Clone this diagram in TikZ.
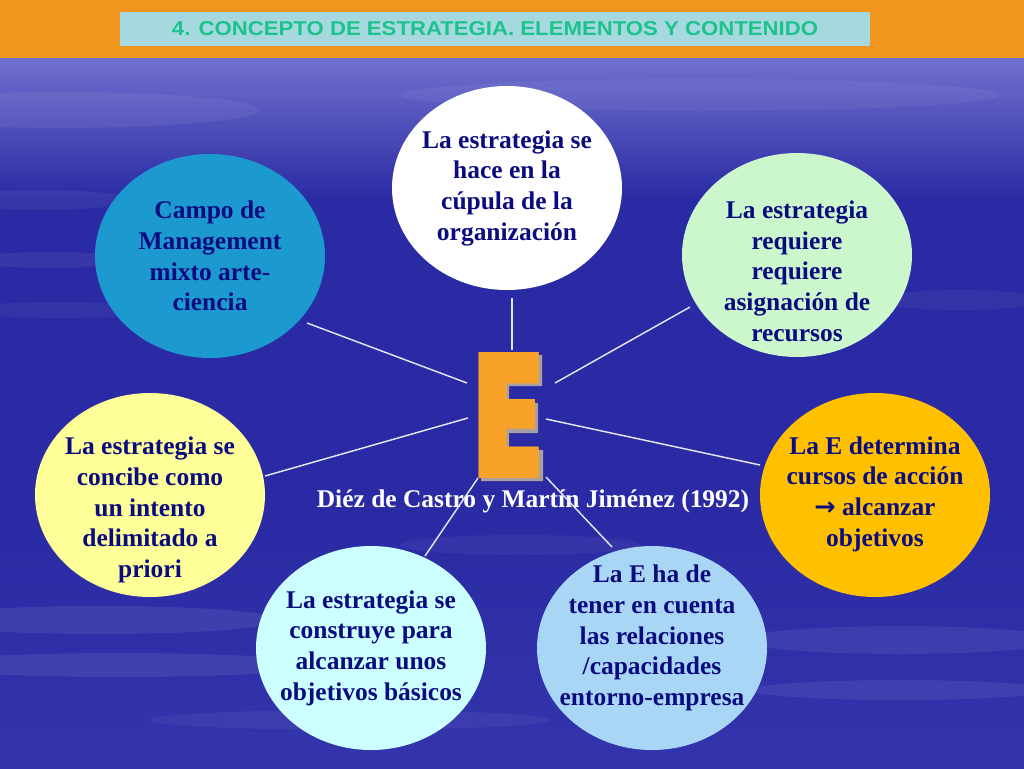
\documentclass[tikz,border=0pt]{standalone}
\usepackage{fontspec}
\setmainfont{Liberation Serif}
\newfontfamily\titlefont{Liberation Sans}
\newfontfamily\Efont{Poppins Black}
\newfontfamily\symfont{DejaVu Sans}
\usetikzlibrary{shapes.geometric}
\definecolor{bandorange}{HTML}{F0961E}
\definecolor{titlebox}{HTML}{A6D8E0}
\definecolor{titlegreen}{HTML}{1CC38A}
\definecolor{bgtop}{HTML}{7070CE}
\definecolor{bgmid}{HTML}{2A2AA4}
\definecolor{bgbot}{HTML}{3434AC}
\definecolor{navytext}{HTML}{0B0B80}
\definecolor{cteal}{HTML}{1C9AD0}
\definecolor{cgreen}{HTML}{CCF7CC}
\definecolor{cyellow}{HTML}{FFFF99}
\definecolor{cgold}{HTML}{FFC000}
\definecolor{ccyan}{HTML}{CCFFFF}
\definecolor{cblue}{HTML}{AAD6F5}
\definecolor{eorange}{HTML}{F9A229}
\definecolor{eshadow}{HTML}{A8A0A0}
\definecolor{spokecol}{HTML}{E4E4F4}
\begin{document}
\begin{tikzpicture}[x=0.75pt,y=-0.75pt,
  bub/.style={ellipse, draw=none, inner sep=0pt, minimum width=172.5pt, minimum height=153pt},
  txt/.style={font=\bfseries\fontsize{19.1pt}{23pt}\selectfont, text=navytext, align=center, inner sep=0pt},
  spoke/.style={draw=spokecol, line width=1.1pt},
  streak/.style={fill=white, draw=none}]
\useasboundingbox (0,0) rectangle (1024,768);
% background
\shade[top color=bgtop, bottom color=bgmid] (0,58) rectangle (1024,200);
\fill[bgmid] (0,199) rectangle (1024,520);
\shade[top color=bgmid, bottom color=bgbot] (0,519) rectangle (1024,768);
% streaks
\fill[streak, opacity=0.06] (60,110) ellipse (200 and 18);
\fill[streak, opacity=0.05] (700,95) ellipse (300 and 16);
\fill[streak, opacity=0.06] (40,200) ellipse (90 and 10);
\fill[streak, opacity=0.06] (50,260) ellipse (80 and 8);
\fill[streak, opacity=0.05] (60,310) ellipse (100 and 8);
\fill[streak, opacity=0.08] (100,620) ellipse (180 and 14);
\fill[streak, opacity=0.08] (120,665) ellipse (200 and 12);
\fill[streak, opacity=0.05] (520,545) ellipse (120 and 10);
\fill[streak, opacity=0.07] (900,640) ellipse (160 and 14);
\fill[streak, opacity=0.07] (900,690) ellipse (150 and 10);
\fill[streak, opacity=0.05] (960,300) ellipse (80 and 10);
\fill[streak, opacity=0.05] (350,720) ellipse (200 and 10);
% header
\fill[bandorange] (0,0) rectangle (1024,58);
\node[fill=titlebox, minimum width=562.5pt, minimum height=25.5pt, inner sep=0pt] (titlebg) at (495,29) {};
\node[inner sep=0pt, text=titlegreen] (title) at (495,29) {\resizebox{484.5pt}{10.5pt}{\titlefont\bfseries 4. CONCEPTO DE ESTRATEGIA. ELEMENTOS Y CONTENIDO}};
% bubbles
\node[bub, fill=white] (n1) at (507,188) {};
\node[bub, fill=cteal] (n2) at (210,256) {};
\node[bub, fill=cgreen] (n3) at (797,255) {};
\node[bub, fill=cyellow] (n4) at (150,495) {};
\node[bub, fill=cgold] (n5) at (875,495) {};
\node[bub, fill=ccyan] (n6) at (371,648) {};
\node[bub, fill=cblue] (n7) at (652,648) {};
% texts
\node[txt] (t1) at (507,188) {La estrategia se\\hace en la\\cúpula de la\\organización};
\node[txt] (t2) at (210,256) {Campo de\\Management\\mixto arte-\\ciencia};
\node[txt] (t3) at (797,271) {La estrategia\\requiere\\requiere\\asignación de\\recursos};
\node[txt] (t4) at (150,510) {La estrategia se\\concibe como\\un intento\\delimitado a\\priori};
\node[txt] (t5) at (875,494) {La E determina\\cursos de acción\\{\symfont\bfseries →} alcanzar\\objetivos};
\node[txt] (t6) at (371,648) {La estrategia se\\construye para\\alcanzar unos\\objetivos básicos};
\node[txt] (t7) at (652,638) {La E ha de\\tener en cuenta\\las relaciones\\/capacidades\\entorno-empresa};
% citation
\node[txt, text=white] (cite) at (533,501) {Diéz de Castro y Martín Jiménez (1992)};
% the E: shadow shape, then the letter
\fill[eshadow] (481,355) -- (542,355) -- (542,386) -- (509,386) -- (509,403) -- (538,403) -- (538,433) -- (509,433) -- (509,450) -- (543,450) -- (543,481) -- (481,481) -- cycle;
\node[inner sep=0pt, text=eorange] (E) at (508,415) {\resizebox{53.4pt}{94.5pt}{\fontsize{130pt}{130pt}\Efont E}};
% spokes
\coordinate (s1a) at (512,350); \coordinate (s1b) at (512,298);
\coordinate (s2a) at (467,383); \coordinate (s2b) at (307,323);
\coordinate (s3a) at (555,383); \coordinate (s3b) at (690,307);
\coordinate (s4a) at (468,418); \coordinate (s4b) at (265,476);
\coordinate (s5a) at (546,419); \coordinate (s5b) at (760,465);
\coordinate (s6a) at (478,478); \coordinate (s6b) at (425,556);
\coordinate (s7a) at (546,477); \coordinate (s7b) at (612,547);
\draw[spoke] (s1a) -- (s1b);
\draw[spoke] (s2a) -- (s2b);
\draw[spoke] (s3a) -- (s3b);
\draw[spoke] (s4a) -- (s4b);
\draw[spoke] (s5a) -- (s5b);
\draw[spoke] (s6a) -- (s6b);
\draw[spoke] (s7a) -- (s7b);
\end{tikzpicture}
\end{document}
